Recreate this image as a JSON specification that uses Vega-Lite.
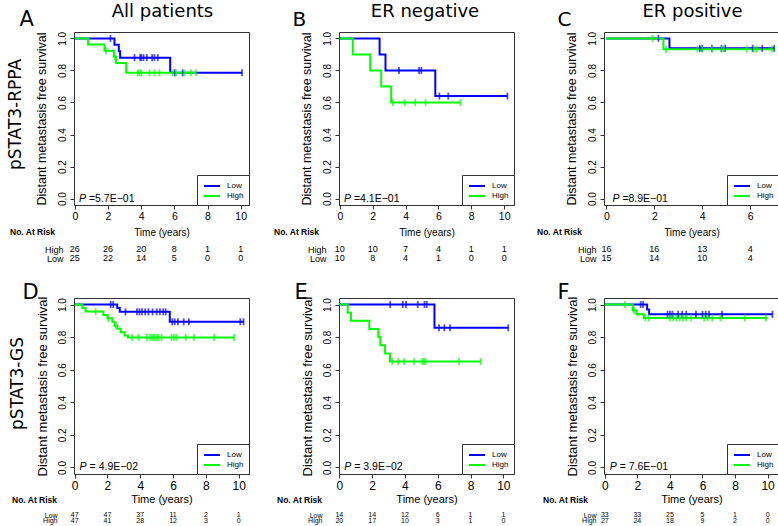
{
"$schema": "https://vega.github.io/schema/vega-lite/v6.json",
"background": "white",
"padding": {"left": 5, "top": 1, "right": 0, "bottom": 0},
"columns": 3,
"spacing": {"row": 36.5, "column": 90},
"bounds": "flush",
"resolve": {"scale": {"color": "independent"}, "legend": {"color": "independent"}},
"config": {
  "font": "Liberation Sans",
  "view": {"stroke": "#333333", "strokeWidth": 1},
  "axis": {"domain": false, "grid": false, "labelColor": "#000000", "titleColor": "#000000", "tickColor": "#333333", "labelFont": "Liberation Sans", "titleFont": "Liberation Sans", "titleFontWeight": "normal", "labelOverlap": false, "labelFlush": false},
  "title": {"font": "Liberation Sans", "fontWeight": "normal", "color": "#000000"},
  "text": {"font": "Liberation Sans", "color": "#000000"}
},
"datasets": {
  "curves": [
    {"panel":"A","group":"Low","t":0,"s":1},{"panel":"A","group":"Low","t":2.39,"s":0.96},{"panel":"A","group":"Low","t":2.65,"s":0.92},{"panel":"A","group":"Low","t":2.73,"s":0.88},{"panel":"A","group":"Low","t":5.75,"s":0.785},{"panel":"A","group":"Low","t":10.08,"s":0.785},
    {"panel":"A","group":"High","t":0,"s":1},{"panel":"A","group":"High","t":0.8,"s":0.962},{"panel":"A","group":"High","t":1.79,"s":0.923},{"panel":"A","group":"High","t":2.35,"s":0.885},{"panel":"A","group":"High","t":2.49,"s":0.846},{"panel":"A","group":"High","t":3.1,"s":0.785},{"panel":"A","group":"High","t":7.3,"s":0.785},
    {"panel":"B","group":"Low","t":0,"s":1},{"panel":"B","group":"Low","t":2.42,"s":0.9},{"panel":"B","group":"Low","t":2.78,"s":0.8},{"panel":"B","group":"Low","t":5.81,"s":0.64},{"panel":"B","group":"Low","t":10.2,"s":0.64},
    {"panel":"B","group":"High","t":0,"s":1},{"panel":"B","group":"High","t":0.79,"s":0.9},{"panel":"B","group":"High","t":1.85,"s":0.8},{"panel":"B","group":"High","t":2.52,"s":0.7},{"panel":"B","group":"High","t":3.13,"s":0.6},{"panel":"B","group":"High","t":7.34,"s":0.6},
    {"panel":"C","group":"Low","t":0,"s":1},{"panel":"C","group":"Low","t":2.63,"s":0.938},{"panel":"C","group":"Low","t":7.0,"s":0.938},
    {"panel":"C","group":"High","t":0,"s":1},{"panel":"C","group":"High","t":2.38,"s":0.933},{"panel":"C","group":"High","t":6.95,"s":0.933},
    {"panel":"D","group":"Low","t":0,"s":1},{"panel":"D","group":"Low","t":2.6,"s":0.978},{"panel":"D","group":"Low","t":2.75,"s":0.955},{"panel":"D","group":"Low","t":5.8,"s":0.894},{"panel":"D","group":"Low","t":10.3,"s":0.894},
    {"panel":"D","group":"High","t":0,"s":1},{"panel":"D","group":"High","t":0.47,"s":0.979},{"panel":"D","group":"High","t":0.67,"s":0.957},{"panel":"D","group":"High","t":1.75,"s":0.936},{"panel":"D","group":"High","t":2.0,"s":0.915},{"panel":"D","group":"High","t":2.3,"s":0.894},{"panel":"D","group":"High","t":2.44,"s":0.872},{"panel":"D","group":"High","t":2.6,"s":0.851},{"panel":"D","group":"High","t":2.8,"s":0.83},{"panel":"D","group":"High","t":3.05,"s":0.81},{"panel":"D","group":"High","t":3.25,"s":0.798},{"panel":"D","group":"High","t":9.72,"s":0.798},
    {"panel":"E","group":"Low","t":0,"s":1},{"panel":"E","group":"Low","t":5.8,"s":0.857},{"panel":"E","group":"Low","t":10.3,"s":0.857},
    {"panel":"E","group":"High","t":0,"s":1},{"panel":"E","group":"High","t":0.51,"s":0.95},{"panel":"E","group":"High","t":0.71,"s":0.9},{"panel":"E","group":"High","t":1.83,"s":0.85},{"panel":"E","group":"High","t":2.38,"s":0.8},{"panel":"E","group":"High","t":2.5,"s":0.75},{"panel":"E","group":"High","t":2.79,"s":0.7},{"panel":"E","group":"High","t":3.09,"s":0.65},{"panel":"E","group":"High","t":8.62,"s":0.65},
    {"panel":"F","group":"Low","t":0,"s":1},{"panel":"F","group":"Low","t":2.6,"s":0.97},{"panel":"F","group":"Low","t":2.72,"s":0.94},{"panel":"F","group":"Low","t":10.3,"s":0.94},
    {"panel":"F","group":"High","t":0,"s":1},{"panel":"F","group":"High","t":1.72,"s":0.963},{"panel":"F","group":"High","t":1.95,"s":0.94},{"panel":"F","group":"High","t":2.4,"s":0.918},{"panel":"F","group":"High","t":10.0,"s":0.918}
  ],
  "censor": [
    {"panel":"A","group":"Low","t":2.15,"s":1},{"panel":"A","group":"Low","t":3.6,"s":0.88},{"panel":"A","group":"Low","t":3.94,"s":0.88},{"panel":"A","group":"Low","t":4.0,"s":0.88},{"panel":"A","group":"Low","t":4.14,"s":0.88},{"panel":"A","group":"Low","t":4.34,"s":0.88},{"panel":"A","group":"Low","t":4.66,"s":0.88},{"panel":"A","group":"Low","t":4.8,"s":0.88},{"panel":"A","group":"Low","t":5.0,"s":0.88},{"panel":"A","group":"Low","t":6.02,"s":0.785},{"panel":"A","group":"Low","t":6.5,"s":0.785},{"panel":"A","group":"Low","t":10.08,"s":0.785},
    {"panel":"A","group":"High","t":1.87,"s":0.923},{"panel":"A","group":"High","t":2.42,"s":0.885},{"panel":"A","group":"High","t":3.8,"s":0.785},{"panel":"A","group":"High","t":3.9,"s":0.785},{"panel":"A","group":"High","t":4.0,"s":0.785},{"panel":"A","group":"High","t":4.5,"s":0.785},{"panel":"A","group":"High","t":4.8,"s":0.785},{"panel":"A","group":"High","t":5.1,"s":0.785},{"panel":"A","group":"High","t":5.9,"s":0.785},{"panel":"A","group":"High","t":6.1,"s":0.785},{"panel":"A","group":"High","t":6.6,"s":0.785},{"panel":"A","group":"High","t":7.0,"s":0.785},{"panel":"A","group":"High","t":7.3,"s":0.785},
    {"panel":"B","group":"Low","t":3.6,"s":0.8},{"panel":"B","group":"Low","t":4.82,"s":0.8},{"panel":"B","group":"Low","t":4.96,"s":0.8},{"panel":"B","group":"Low","t":6.06,"s":0.64},{"panel":"B","group":"Low","t":6.6,"s":0.64},{"panel":"B","group":"Low","t":10.2,"s":0.64},
    {"panel":"B","group":"High","t":3.23,"s":0.6},{"panel":"B","group":"High","t":3.94,"s":0.6},{"panel":"B","group":"High","t":4.59,"s":0.6},{"panel":"B","group":"High","t":5.22,"s":0.6},{"panel":"B","group":"High","t":7.34,"s":0.6},
    {"panel":"C","group":"Low","t":2.17,"s":1},{"panel":"C","group":"Low","t":3.9,"s":0.938},{"panel":"C","group":"Low","t":4.0,"s":0.938},{"panel":"C","group":"Low","t":4.4,"s":0.938},{"panel":"C","group":"Low","t":4.8,"s":0.938},{"panel":"C","group":"Low","t":4.95,"s":0.938},{"panel":"C","group":"Low","t":6.1,"s":0.938},{"panel":"C","group":"Low","t":6.5,"s":0.938},{"panel":"C","group":"Low","t":7.0,"s":0.938},
    {"panel":"C","group":"High","t":1.92,"s":1},{"panel":"C","group":"High","t":2.49,"s":0.933},{"panel":"C","group":"High","t":3.8,"s":0.933},{"panel":"C","group":"High","t":4.0,"s":0.933},{"panel":"C","group":"High","t":4.4,"s":0.933},{"panel":"C","group":"High","t":4.8,"s":0.933},{"panel":"C","group":"High","t":4.9,"s":0.933},{"panel":"C","group":"High","t":5.85,"s":0.933},{"panel":"C","group":"High","t":6.15,"s":0.933},{"panel":"C","group":"High","t":6.27,"s":0.933},{"panel":"C","group":"High","t":6.9,"s":0.933},
    {"panel":"D","group":"Low","t":2.2,"s":1},{"panel":"D","group":"Low","t":2.35,"s":1},{"panel":"D","group":"Low","t":3.1,"s":0.955},{"panel":"D","group":"Low","t":3.8,"s":0.955},{"panel":"D","group":"Low","t":3.95,"s":0.955},{"panel":"D","group":"Low","t":4.1,"s":0.955},{"panel":"D","group":"Low","t":4.3,"s":0.955},{"panel":"D","group":"Low","t":4.5,"s":0.955},{"panel":"D","group":"Low","t":4.75,"s":0.955},{"panel":"D","group":"Low","t":5.0,"s":0.955},{"panel":"D","group":"Low","t":5.2,"s":0.955},{"panel":"D","group":"Low","t":5.4,"s":0.955},{"panel":"D","group":"Low","t":5.55,"s":0.955},{"panel":"D","group":"Low","t":5.95,"s":0.894},{"panel":"D","group":"Low","t":6.1,"s":0.894},{"panel":"D","group":"Low","t":6.3,"s":0.894},{"panel":"D","group":"Low","t":6.65,"s":0.894},{"panel":"D","group":"Low","t":6.96,"s":0.894},{"panel":"D","group":"Low","t":10.1,"s":0.894},{"panel":"D","group":"Low","t":10.3,"s":0.894},
    {"panel":"D","group":"High","t":1.28,"s":0.957},{"panel":"D","group":"High","t":2.05,"s":0.915},{"panel":"D","group":"High","t":2.5,"s":0.872},{"panel":"D","group":"High","t":3.5,"s":0.798},{"panel":"D","group":"High","t":3.9,"s":0.798},{"panel":"D","group":"High","t":4.4,"s":0.798},{"panel":"D","group":"High","t":4.6,"s":0.798},{"panel":"D","group":"High","t":4.75,"s":0.798},{"panel":"D","group":"High","t":4.85,"s":0.798},{"panel":"D","group":"High","t":5.0,"s":0.798},{"panel":"D","group":"High","t":5.1,"s":0.798},{"panel":"D","group":"High","t":5.3,"s":0.798},{"panel":"D","group":"High","t":5.9,"s":0.798},{"panel":"D","group":"High","t":6.05,"s":0.798},{"panel":"D","group":"High","t":6.2,"s":0.798},{"panel":"D","group":"High","t":6.77,"s":0.798},{"panel":"D","group":"High","t":7.27,"s":0.798},{"panel":"D","group":"High","t":8.5,"s":0.798},{"panel":"D","group":"High","t":9.72,"s":0.798},
    {"panel":"E","group":"Low","t":3.1,"s":1},{"panel":"E","group":"Low","t":3.87,"s":1},{"panel":"E","group":"Low","t":4.07,"s":1},{"panel":"E","group":"Low","t":4.78,"s":1},{"panel":"E","group":"Low","t":5.19,"s":1},{"panel":"E","group":"Low","t":5.33,"s":1},{"panel":"E","group":"Low","t":6.08,"s":0.857},{"panel":"E","group":"Low","t":6.4,"s":0.857},{"panel":"E","group":"Low","t":6.75,"s":0.857},{"panel":"E","group":"Low","t":10.3,"s":0.857},
    {"panel":"E","group":"High","t":3.23,"s":0.65},{"panel":"E","group":"High","t":3.6,"s":0.65},{"panel":"E","group":"High","t":3.95,"s":0.65},{"panel":"E","group":"High","t":4.56,"s":0.65},{"panel":"E","group":"High","t":5.06,"s":0.65},{"panel":"E","group":"High","t":5.16,"s":0.65},{"panel":"E","group":"High","t":5.26,"s":0.65},{"panel":"E","group":"High","t":7.3,"s":0.65},{"panel":"E","group":"High","t":8.62,"s":0.65},
    {"panel":"F","group":"Low","t":2.2,"s":1},{"panel":"F","group":"Low","t":2.35,"s":1},{"panel":"F","group":"Low","t":3.85,"s":0.94},{"panel":"F","group":"Low","t":4.0,"s":0.94},{"panel":"F","group":"Low","t":4.15,"s":0.94},{"panel":"F","group":"Low","t":4.5,"s":0.94},{"panel":"F","group":"Low","t":4.75,"s":0.94},{"panel":"F","group":"Low","t":5.0,"s":0.94},{"panel":"F","group":"Low","t":5.6,"s":0.94},{"panel":"F","group":"Low","t":6.0,"s":0.94},{"panel":"F","group":"Low","t":6.2,"s":0.94},{"panel":"F","group":"Low","t":6.4,"s":0.94},{"panel":"F","group":"Low","t":7.2,"s":0.94},{"panel":"F","group":"Low","t":10.3,"s":0.94},
    {"panel":"F","group":"High","t":1.24,"s":1},{"panel":"F","group":"High","t":1.8,"s":0.963},{"panel":"F","group":"High","t":2.48,"s":0.918},{"panel":"F","group":"High","t":2.7,"s":0.918},{"panel":"F","group":"High","t":4.0,"s":0.918},{"panel":"F","group":"High","t":4.2,"s":0.918},{"panel":"F","group":"High","t":4.4,"s":0.918},{"panel":"F","group":"High","t":4.6,"s":0.918},{"panel":"F","group":"High","t":4.8,"s":0.918},{"panel":"F","group":"High","t":5.0,"s":0.918},{"panel":"F","group":"High","t":5.3,"s":0.918},{"panel":"F","group":"High","t":6.1,"s":0.918},{"panel":"F","group":"High","t":6.3,"s":0.918},{"panel":"F","group":"High","t":6.6,"s":0.918},{"panel":"F","group":"High","t":7.1,"s":0.918},{"panel":"F","group":"High","t":8.6,"s":0.918},{"panel":"F","group":"High","t":9.9,"s":0.918}
  ],
  "pvals": [
    {"panel":"A","p":"=5.7E−01"},{"panel":"B","p":"=4.1E−01"},{"panel":"C","p":"=8.9E−01"},
    {"panel":"D","p":"= 4.9E−02"},{"panel":"E","p":"= 3.9E−02"},{"panel":"F","p":"= 7.6E−01"}
  ],
  "risk": [
    {"panel":"A","group":"High","t":0,"n":26},{"panel":"A","group":"High","t":2,"n":26},{"panel":"A","group":"High","t":4,"n":20},{"panel":"A","group":"High","t":6,"n":8},{"panel":"A","group":"High","t":8,"n":1},{"panel":"A","group":"High","t":10,"n":1},
    {"panel":"A","group":"Low","t":0,"n":25},{"panel":"A","group":"Low","t":2,"n":22},{"panel":"A","group":"Low","t":4,"n":14},{"panel":"A","group":"Low","t":6,"n":5},{"panel":"A","group":"Low","t":8,"n":0},{"panel":"A","group":"Low","t":10,"n":0},
    {"panel":"B","group":"High","t":0,"n":10},{"panel":"B","group":"High","t":2,"n":10},{"panel":"B","group":"High","t":4,"n":7},{"panel":"B","group":"High","t":6,"n":4},{"panel":"B","group":"High","t":8,"n":1},{"panel":"B","group":"High","t":10,"n":1},
    {"panel":"B","group":"Low","t":0,"n":10},{"panel":"B","group":"Low","t":2,"n":8},{"panel":"B","group":"Low","t":4,"n":4},{"panel":"B","group":"Low","t":6,"n":1},{"panel":"B","group":"Low","t":8,"n":0},{"panel":"B","group":"Low","t":10,"n":0},
    {"panel":"C","group":"High","t":0,"n":16},{"panel":"C","group":"High","t":2,"n":16},{"panel":"C","group":"High","t":4,"n":13},{"panel":"C","group":"High","t":6,"n":4},
    {"panel":"C","group":"Low","t":0,"n":15},{"panel":"C","group":"Low","t":2,"n":14},{"panel":"C","group":"Low","t":4,"n":10},{"panel":"C","group":"Low","t":6,"n":4},
    {"panel":"D","group":"Low","t":0,"n":47},{"panel":"D","group":"Low","t":2,"n":47},{"panel":"D","group":"Low","t":4,"n":37},{"panel":"D","group":"Low","t":6,"n":11},{"panel":"D","group":"Low","t":8,"n":2},{"panel":"D","group":"Low","t":10,"n":1},
    {"panel":"D","group":"High","t":0,"n":47},{"panel":"D","group":"High","t":2,"n":41},{"panel":"D","group":"High","t":4,"n":28},{"panel":"D","group":"High","t":6,"n":12},{"panel":"D","group":"High","t":8,"n":3},{"panel":"D","group":"High","t":10,"n":0},
    {"panel":"E","group":"Low","t":0,"n":14},{"panel":"E","group":"Low","t":2,"n":14},{"panel":"E","group":"Low","t":4,"n":12},{"panel":"E","group":"Low","t":6,"n":6},{"panel":"E","group":"Low","t":8,"n":1},{"panel":"E","group":"Low","t":10,"n":1},
    {"panel":"E","group":"High","t":0,"n":20},{"panel":"E","group":"High","t":2,"n":17},{"panel":"E","group":"High","t":4,"n":10},{"panel":"E","group":"High","t":6,"n":3},{"panel":"E","group":"High","t":8,"n":1},{"panel":"E","group":"High","t":10,"n":0},
    {"panel":"F","group":"Low","t":0,"n":33},{"panel":"F","group":"Low","t":2,"n":33},{"panel":"F","group":"Low","t":4,"n":25},{"panel":"F","group":"Low","t":6,"n":5},{"panel":"F","group":"Low","t":8,"n":1},{"panel":"F","group":"Low","t":10,"n":0},
    {"panel":"F","group":"High","t":0,"n":27},{"panel":"F","group":"High","t":2,"n":24},{"panel":"F","group":"High","t":4,"n":18},{"panel":"F","group":"High","t":6,"n":9},{"panel":"F","group":"High","t":8,"n":2},{"panel":"F","group":"High","t":10,"n":0}
  ]
},
"concat": [
 {
  "width": 175, "height": 173,
  "layer": [
   {"data": {"name": "curves"}, "transform": [{"filter": "datum.panel === 'A'"}],
    "mark": {"type": "line", "interpolate": "step-after", "strokeWidth": 2},
    "encoding": {
     "x": {"field": "t", "type": "quantitative", "scale": {"domain": [-0.05, 10.5], "nice": false, "zero": false}, "axis": {"orient": "bottom", "values": [0,2,4,6,8,10], "tickSize": 4, "labelPadding": 2, "labelFontSize": 10.5, "title": "Time (years)", "titleFontSize": 10, "titlePadding": 6}},
     "y": {"field": "s", "type": "quantitative", "scale": {"domain": [-0.04, 1.04], "nice": false, "zero": false}, "axis": {"orient": "left", "values": [0,0.2,0.4,0.6,0.8,1], "format": ".1f", "tickSize": 4, "labelAngle": -90, "labelAlign": "center", "labelBaseline": "bottom", "labelPadding": 3, "labelFontSize": 10, "title": "Distant metastasis free survival", "titleFontSize": 12.5, "titlePadding": 9}},
     "color": {"field": "group", "type": "nominal", "scale": {"domain": ["Low","High"], "range": ["#0000ff","#00ff00"]}, "legend": {"orient": "bottom-right", "offset": 0, "title": null, "padding": 5, "strokeColor": "#333333", "fillColor": "#ffffff", "labelFontSize": 8, "labelFont": "Liberation Sans", "symbolType": "M-1.6,0H1.6", "symbolSize": 100, "symbolStrokeWidth": 2, "symbolOffset": 4, "labelOffset": 9, "rowPadding": 0, "cornerRadius": 0}}
    }},
   {"data": {"name": "censor"}, "transform": [{"filter": "datum.panel === 'A'"}],
    "mark": {"type": "tick", "orient": "vertical", "size": 7, "thickness": 1.8},
    "encoding": {
     "x": {"field": "t", "type": "quantitative", "axis": {"orient": "top", "labels": false, "ticks": false, "domain": false, "title": "All patients", "titleFont": "DejaVu Sans", "titleFontSize": 18, "titleX": 88, "titleY": -16, "titleAlign": "center", "titleBaseline": "alphabetic", "titleAngle": 0}},
     "y": {"field": "s", "type": "quantitative", "axis": {"orient": "left", "labels": false, "ticks": false, "domain": false, "title": "pSTAT3-RPPA", "titleFont": "DejaVu Sans", "titleFontSize": 17, "titleX": -54, "titleY": 82, "titleAngle": -90, "titleAlign": "center", "titleBaseline": "alphabetic"}},
     "color": {"field": "group", "type": "nominal", "legend": null}
    }},
   {"data": {"name": "pvals"}, "transform": [{"filter": "datum.panel === 'A'"}],
    "mark": {"type": "text", "align": "left", "baseline": "middle", "fontSize": 10.5, "fontStyle": "italic"},
    "encoding": {
     "x": {"datum": 0.25, "type": "quantitative", "axis": {"orient": "top", "labels": false, "ticks": false, "domain": false, "title": "A", "titleFont": "DejaVu Sans", "titleFontSize": 21, "titleX": -55, "titleY": -7, "titleAlign": "left", "titleBaseline": "alphabetic", "titleAngle": 0}},
     "y": {"datum": 0, "type": "quantitative", "axis": null},
     "text": {"value": "P"}
    }},
   {"data": {"name": "pvals"}, "transform": [{"filter": "datum.panel === 'A'"}],
    "mark": {"type": "text", "align": "left", "baseline": "middle", "fontSize": 10.5, "dx": 10},
    "encoding": {
     "x": {"datum": 0.25, "type": "quantitative", "axis": null},
     "y": {"datum": 0, "type": "quantitative", "axis": null},
     "text": {"field": "p", "type": "nominal"}
    }}
  ],
  "resolve": {"axis": {"x": "independent", "y": "independent"}}
 },
 {
  "width": 175, "height": 173,
  "layer": [
   {"data": {"name": "curves"}, "transform": [{"filter": "datum.panel === 'B'"}],
    "mark": {"type": "line", "interpolate": "step-after", "strokeWidth": 2},
    "encoding": {
     "x": {"field": "t", "type": "quantitative", "scale": {"domain": [-0.05, 10.6], "nice": false, "zero": false}, "axis": {"orient": "bottom", "values": [0,2,4,6,8,10], "tickSize": 4, "labelPadding": 2, "labelFontSize": 10.5, "title": "Time (years)", "titleFontSize": 10, "titlePadding": 6}},
     "y": {"field": "s", "type": "quantitative", "scale": {"domain": [-0.04, 1.04], "nice": false, "zero": false}, "axis": {"orient": "left", "values": [0,0.2,0.4,0.6,0.8,1], "format": ".1f", "tickSize": 4, "labelAngle": -90, "labelAlign": "center", "labelBaseline": "bottom", "labelPadding": 3, "labelFontSize": 10, "title": "Distant metastasis free survival", "titleFontSize": 12.5, "titlePadding": 9}},
     "color": {"field": "group", "type": "nominal", "scale": {"domain": ["Low","High"], "range": ["#0000ff","#00ff00"]}, "legend": {"orient": "bottom-right", "offset": 0, "title": null, "padding": 5, "strokeColor": "#333333", "fillColor": "#ffffff", "labelFontSize": 8, "labelFont": "Liberation Sans", "symbolType": "M-1.6,0H1.6", "symbolSize": 100, "symbolStrokeWidth": 2, "symbolOffset": 4, "labelOffset": 9, "rowPadding": 0, "cornerRadius": 0}}
    }},
   {"data": {"name": "censor"}, "transform": [{"filter": "datum.panel === 'B'"}],
    "mark": {"type": "tick", "orient": "vertical", "size": 7, "thickness": 1.8},
    "encoding": {
     "x": {"field": "t", "type": "quantitative", "axis": {"orient": "top", "labels": false, "ticks": false, "domain": false, "title": "ER negative", "titleFont": "DejaVu Sans", "titleFontSize": 18, "titleX": 85.5, "titleY": -16, "titleAlign": "center", "titleBaseline": "alphabetic", "titleAngle": 0}},
     "y": {"field": "s", "type": "quantitative", "axis": null},
     "color": {"field": "group", "type": "nominal", "legend": null}
    }},
   {"data": {"name": "pvals"}, "transform": [{"filter": "datum.panel === 'B'"}],
    "mark": {"type": "text", "align": "left", "baseline": "middle", "fontSize": 10.5, "fontStyle": "italic"},
    "encoding": {
     "x": {"datum": 0.25, "type": "quantitative", "axis": {"orient": "top", "labels": false, "ticks": false, "domain": false, "title": "B", "titleFont": "DejaVu Sans", "titleFontSize": 20, "titleX": -47, "titleY": -7, "titleAlign": "left", "titleBaseline": "alphabetic", "titleAngle": 0}},
     "y": {"datum": 0, "type": "quantitative", "axis": null},
     "text": {"value": "P"}
    }},
   {"data": {"name": "pvals"}, "transform": [{"filter": "datum.panel === 'B'"}],
    "mark": {"type": "text", "align": "left", "baseline": "middle", "fontSize": 10.5, "dx": 10},
    "encoding": {
     "x": {"datum": 0.25, "type": "quantitative", "axis": null},
     "y": {"datum": 0, "type": "quantitative", "axis": null},
     "text": {"field": "p", "type": "nominal"}
    }}
  ],
  "resolve": {"axis": {"x": "independent", "y": "independent"}}
 },
 {
  "width": 175, "height": 173,
  "layer": [
   {"data": {"name": "curves"}, "transform": [{"filter": "datum.panel === 'C'"}],
    "mark": {"type": "line", "interpolate": "step-after", "strokeWidth": 2},
    "encoding": {
     "x": {"field": "t", "type": "quantitative", "scale": {"domain": [-0.1, 7.2], "nice": false, "zero": false}, "axis": {"orient": "bottom", "values": [0,2,4,6], "tickSize": 4, "labelPadding": 2, "labelFontSize": 10.5, "title": "Time (years)", "titleFontSize": 10, "titlePadding": 6}},
     "y": {"field": "s", "type": "quantitative", "scale": {"domain": [-0.04, 1.04], "nice": false, "zero": false}, "axis": {"orient": "left", "values": [0,0.2,0.4,0.6,0.8,1], "format": ".1f", "tickSize": 4, "labelAngle": -90, "labelAlign": "center", "labelBaseline": "bottom", "labelPadding": 3, "labelFontSize": 10, "title": "Distant metastasis free survival", "titleFontSize": 12.5, "titlePadding": 9}},
     "color": {"field": "group", "type": "nominal", "scale": {"domain": ["Low","High"], "range": ["#0000ff","#00ff00"]}, "legend": {"orient": "bottom-right", "offset": 0, "title": null, "padding": 5, "strokeColor": "#333333", "fillColor": "#ffffff", "labelFontSize": 8, "labelFont": "Liberation Sans", "symbolType": "M-1.6,0H1.6", "symbolSize": 100, "symbolStrokeWidth": 2, "symbolOffset": 4, "labelOffset": 9, "rowPadding": 0, "cornerRadius": 0}}
    }},
   {"data": {"name": "censor"}, "transform": [{"filter": "datum.panel === 'C'"}],
    "mark": {"type": "tick", "orient": "vertical", "size": 7, "thickness": 1.8},
    "encoding": {
     "x": {"field": "t", "type": "quantitative", "axis": {"orient": "top", "labels": false, "ticks": false, "domain": false, "title": "ER positive", "titleFont": "DejaVu Sans", "titleFontSize": 18, "titleX": 88, "titleY": -16, "titleAlign": "center", "titleBaseline": "alphabetic", "titleAngle": 0}},
     "y": {"field": "s", "type": "quantitative", "axis": null},
     "color": {"field": "group", "type": "nominal", "legend": null}
    }},
   {"data": {"name": "pvals"}, "transform": [{"filter": "datum.panel === 'C'"}],
    "mark": {"type": "text", "align": "left", "baseline": "middle", "fontSize": 10.5, "fontStyle": "italic"},
    "encoding": {
     "x": {"datum": 0.25, "type": "quantitative", "axis": {"orient": "top", "labels": false, "ticks": false, "domain": false, "title": "C", "titleFont": "DejaVu Sans", "titleFontSize": 20, "titleX": -47, "titleY": -7, "titleAlign": "left", "titleBaseline": "alphabetic", "titleAngle": 0}},
     "y": {"datum": 0, "type": "quantitative", "axis": null},
     "text": {"value": "P"}
    }},
   {"data": {"name": "pvals"}, "transform": [{"filter": "datum.panel === 'C'"}],
    "mark": {"type": "text", "align": "left", "baseline": "middle", "fontSize": 10.5, "dx": 10},
    "encoding": {
     "x": {"datum": 0.25, "type": "quantitative", "axis": null},
     "y": {"datum": 0, "type": "quantitative", "axis": null},
     "text": {"field": "p", "type": "nominal"}
    }}
  ],
  "resolve": {"axis": {"x": "independent", "y": "independent"}}
 },
 {
  "width": 175, "height": 20, "view": {"stroke": null},
  "data": {"name": "risk"}, "transform": [{"filter": "datum.panel === 'A'"}],
  "title": {"text": "No. At Risk", "anchor": "start", "frame": "group", "dx": -64, "offset": 5.5, "fontSize": 8.5, "fontWeight": "bold"},
  "mark": {"type": "text", "fontSize": 9},
  "encoding": {
   "x": {"field": "t", "type": "quantitative", "scale": {"domain": [-0.05, 10.5], "nice": false, "zero": false}, "axis": null},
   "y": {"field": "group", "type": "nominal", "scale": {"type": "point", "domain": ["High","Low"], "padding": 0.6111, "align": 0.682}, "axis": {"title": null, "ticks": false, "domain": false, "labelPadding": 11, "labelFontSize": 9}},
   "text": {"field": "n", "type": "quantitative"}
  }
 },
 {
  "width": 175, "height": 20, "view": {"stroke": null},
  "data": {"name": "risk"}, "transform": [{"filter": "datum.panel === 'B'"}],
  "title": {"text": "No. At Risk", "anchor": "start", "frame": "group", "dx": -65, "offset": 5.5, "fontSize": 8.5, "fontWeight": "bold"},
  "mark": {"type": "text", "fontSize": 9},
  "encoding": {
   "x": {"field": "t", "type": "quantitative", "scale": {"domain": [-0.05, 10.6], "nice": false, "zero": false}, "axis": null},
   "y": {"field": "group", "type": "nominal", "scale": {"type": "point", "domain": ["High","Low"], "padding": 0.6111, "align": 0.682}, "axis": {"title": null, "ticks": false, "domain": false, "labelPadding": 13, "labelFontSize": 9}},
   "text": {"field": "n", "type": "quantitative"}
  }
 },
 {
  "width": 175, "height": 20, "view": {"stroke": null},
  "data": {"name": "risk"}, "transform": [{"filter": "datum.panel === 'C'"}],
  "title": {"text": "No. At Risk", "anchor": "start", "frame": "group", "dx": -67, "offset": 5.5, "fontSize": 8.5, "fontWeight": "bold"},
  "mark": {"type": "text", "fontSize": 9},
  "encoding": {
   "x": {"field": "t", "type": "quantitative", "scale": {"domain": [-0.1, 7.2], "nice": false, "zero": false}, "axis": null},
   "y": {"field": "group", "type": "nominal", "scale": {"type": "point", "domain": ["High","Low"], "padding": 0.6111, "align": 0.682}, "axis": {"title": null, "ticks": false, "domain": false, "labelPadding": 8, "labelFontSize": 9}},
   "text": {"field": "n", "type": "quantitative"}
  }
 },
 {
  "width": 175, "height": 176,
  "layer": [
   {"data": {"name": "curves"}, "transform": [{"filter": "datum.panel === 'D'"}],
    "mark": {"type": "line", "interpolate": "step-after", "strokeWidth": 2},
    "encoding": {
     "x": {"field": "t", "type": "quantitative", "scale": {"domain": [-0.04, 10.63], "nice": false, "zero": false}, "axis": {"orient": "bottom", "values": [0,2,4,6,8,10], "tickSize": 4, "labelPadding": 2, "labelFontSize": 12, "title": "Time (years)", "titleFontSize": 11, "titlePadding": 2}},
     "y": {"field": "s", "type": "quantitative", "scale": {"domain": [-0.04, 1.04], "nice": false, "zero": false}, "axis": {"orient": "left", "values": [0,0.2,0.4,0.6,0.8,1], "format": ".1f", "tickSize": 4, "labelAngle": -90, "labelAlign": "center", "labelBaseline": "bottom", "labelPadding": 3, "labelFontSize": 10, "title": "Distant metastasis free survival", "titleFontSize": 13, "titlePadding": 8}},
     "color": {"field": "group", "type": "nominal", "scale": {"domain": ["Low","High"], "range": ["#0000ff","#00ff00"]}, "legend": {"orient": "bottom-right", "offset": 0, "title": null, "padding": 5, "strokeColor": "#333333", "fillColor": "#ffffff", "labelFontSize": 8, "labelFont": "Liberation Sans", "symbolType": "M-1.6,0H1.6", "symbolSize": 100, "symbolStrokeWidth": 2, "symbolOffset": 4, "labelOffset": 9, "rowPadding": 0, "cornerRadius": 0}}
    }},
   {"data": {"name": "censor"}, "transform": [{"filter": "datum.panel === 'D'"}],
    "mark": {"type": "tick", "orient": "vertical", "size": 7, "thickness": 1.8},
    "encoding": {
     "x": {"field": "t", "type": "quantitative", "axis": null},
     "y": {"field": "s", "type": "quantitative", "axis": {"orient": "left", "labels": false, "ticks": false, "domain": false, "title": "pSTAT3-GS", "titleFont": "DejaVu Sans", "titleFontSize": 17, "titleX": -52, "titleY": 85, "titleAngle": -90, "titleAlign": "center", "titleBaseline": "alphabetic"}},
     "color": {"field": "group", "type": "nominal", "legend": null}
    }},
   {"data": {"name": "pvals"}, "transform": [{"filter": "datum.panel === 'D'"}],
    "mark": {"type": "text", "align": "left", "baseline": "middle", "fontSize": 10.5, "fontStyle": "italic"},
    "encoding": {
     "x": {"datum": 0.3, "type": "quantitative", "axis": {"orient": "top", "labels": false, "ticks": false, "domain": false, "title": "D", "titleFont": "DejaVu Sans", "titleFontSize": 21, "titleX": -52, "titleY": 0, "titleAlign": "left", "titleBaseline": "alphabetic", "titleAngle": 0}},
     "y": {"datum": 0, "type": "quantitative", "axis": null},
     "text": {"value": "P"}
    }},
   {"data": {"name": "pvals"}, "transform": [{"filter": "datum.panel === 'D'"}],
    "mark": {"type": "text", "align": "left", "baseline": "middle", "fontSize": 10.5, "dx": 10},
    "encoding": {
     "x": {"datum": 0.3, "type": "quantitative", "axis": null},
     "y": {"datum": 0, "type": "quantitative", "axis": null},
     "text": {"field": "p", "type": "nominal"}
    }}
  ],
  "resolve": {"axis": {"x": "independent", "y": "independent"}}
 },
 {
  "width": 175, "height": 176,
  "layer": [
   {"data": {"name": "curves"}, "transform": [{"filter": "datum.panel === 'E'"}],
    "mark": {"type": "line", "interpolate": "step-after", "strokeWidth": 2},
    "encoding": {
     "x": {"field": "t", "type": "quantitative", "scale": {"domain": [-0.02, 10.65], "nice": false, "zero": false}, "axis": {"orient": "bottom", "values": [0,2,4,6,8,10], "tickSize": 4, "labelPadding": 2, "labelFontSize": 12, "title": "Time (years)", "titleFontSize": 11, "titlePadding": 2}},
     "y": {"field": "s", "type": "quantitative", "scale": {"domain": [-0.04, 1.04], "nice": false, "zero": false}, "axis": {"orient": "left", "values": [0,0.2,0.4,0.6,0.8,1], "format": ".1f", "tickSize": 4, "labelAngle": -90, "labelAlign": "center", "labelBaseline": "bottom", "labelPadding": 3, "labelFontSize": 10, "title": "Distant metastasis free survival", "titleFontSize": 13, "titlePadding": 8}},
     "color": {"field": "group", "type": "nominal", "scale": {"domain": ["Low","High"], "range": ["#0000ff","#00ff00"]}, "legend": {"orient": "bottom-right", "offset": 0, "title": null, "padding": 5, "strokeColor": "#333333", "fillColor": "#ffffff", "labelFontSize": 8, "labelFont": "Liberation Sans", "symbolType": "M-1.6,0H1.6", "symbolSize": 100, "symbolStrokeWidth": 2, "symbolOffset": 4, "labelOffset": 9, "rowPadding": 0, "cornerRadius": 0}}
    }},
   {"data": {"name": "censor"}, "transform": [{"filter": "datum.panel === 'E'"}],
    "mark": {"type": "tick", "orient": "vertical", "size": 7, "thickness": 1.8},
    "encoding": {
     "x": {"field": "t", "type": "quantitative", "axis": null},
     "y": {"field": "s", "type": "quantitative", "axis": null},
     "color": {"field": "group", "type": "nominal", "legend": null}
    }},
   {"data": {"name": "pvals"}, "transform": [{"filter": "datum.panel === 'E'"}],
    "mark": {"type": "text", "align": "left", "baseline": "middle", "fontSize": 10.5, "fontStyle": "italic"},
    "encoding": {
     "x": {"datum": 0.3, "type": "quantitative", "axis": {"orient": "top", "labels": false, "ticks": false, "domain": false, "title": "E", "titleFont": "DejaVu Sans", "titleFontSize": 21, "titleX": -45, "titleY": 0, "titleAlign": "left", "titleBaseline": "alphabetic", "titleAngle": 0}},
     "y": {"datum": 0, "type": "quantitative", "axis": null},
     "text": {"value": "P"}
    }},
   {"data": {"name": "pvals"}, "transform": [{"filter": "datum.panel === 'E'"}],
    "mark": {"type": "text", "align": "left", "baseline": "middle", "fontSize": 10.5, "dx": 10},
    "encoding": {
     "x": {"datum": 0.3, "type": "quantitative", "axis": null},
     "y": {"datum": 0, "type": "quantitative", "axis": null},
     "text": {"field": "p", "type": "nominal"}
    }}
  ],
  "resolve": {"axis": {"x": "independent", "y": "independent"}}
 },
 {
  "width": 175, "height": 176,
  "layer": [
   {"data": {"name": "curves"}, "transform": [{"filter": "datum.panel === 'F'"}],
    "mark": {"type": "line", "interpolate": "step-after", "strokeWidth": 2},
    "encoding": {
     "x": {"field": "t", "type": "quantitative", "scale": {"domain": [-0.05, 10.7], "nice": false, "zero": false}, "axis": {"orient": "bottom", "values": [0,2,4,6,8,10], "tickSize": 4, "labelPadding": 2, "labelFontSize": 12, "title": "Time (years)", "titleFontSize": 11, "titlePadding": 2}},
     "y": {"field": "s", "type": "quantitative", "scale": {"domain": [-0.04, 1.04], "nice": false, "zero": false}, "axis": {"orient": "left", "values": [0,0.2,0.4,0.6,0.8,1], "format": ".1f", "tickSize": 4, "labelAngle": -90, "labelAlign": "center", "labelBaseline": "bottom", "labelPadding": 3, "labelFontSize": 10, "title": "Distant metastasis free survival", "titleFontSize": 13, "titlePadding": 8}},
     "color": {"field": "group", "type": "nominal", "scale": {"domain": ["Low","High"], "range": ["#0000ff","#00ff00"]}, "legend": {"orient": "bottom-right", "offset": 0, "title": null, "padding": 5, "strokeColor": "#333333", "fillColor": "#ffffff", "labelFontSize": 8, "labelFont": "Liberation Sans", "symbolType": "M-1.6,0H1.6", "symbolSize": 100, "symbolStrokeWidth": 2, "symbolOffset": 4, "labelOffset": 9, "rowPadding": 0, "cornerRadius": 0}}
    }},
   {"data": {"name": "censor"}, "transform": [{"filter": "datum.panel === 'F'"}],
    "mark": {"type": "tick", "orient": "vertical", "size": 7, "thickness": 1.8},
    "encoding": {
     "x": {"field": "t", "type": "quantitative", "axis": null},
     "y": {"field": "s", "type": "quantitative", "axis": null},
     "color": {"field": "group", "type": "nominal", "legend": null}
    }},
   {"data": {"name": "pvals"}, "transform": [{"filter": "datum.panel === 'F'"}],
    "mark": {"type": "text", "align": "left", "baseline": "middle", "fontSize": 10.5, "fontStyle": "italic"},
    "encoding": {
     "x": {"datum": 0.3, "type": "quantitative", "axis": {"orient": "top", "labels": false, "ticks": false, "domain": false, "title": "F", "titleFont": "DejaVu Sans", "titleFontSize": 21, "titleX": -47, "titleY": 0, "titleAlign": "left", "titleBaseline": "alphabetic", "titleAngle": 0}},
     "y": {"datum": 0, "type": "quantitative", "axis": null},
     "text": {"value": "P"}
    }},
   {"data": {"name": "pvals"}, "transform": [{"filter": "datum.panel === 'F'"}],
    "mark": {"type": "text", "align": "left", "baseline": "middle", "fontSize": 10.5, "dx": 10},
    "encoding": {
     "x": {"datum": 0.3, "type": "quantitative", "axis": null},
     "y": {"datum": 0, "type": "quantitative", "axis": null},
     "text": {"field": "p", "type": "nominal"}
    }}
  ],
  "resolve": {"axis": {"x": "independent", "y": "independent"}}
 },
 {
  "width": 175, "height": 14, "view": {"stroke": null},
  "data": {"name": "risk"}, "transform": [{"filter": "datum.panel === 'D'"}],
  "title": {"text": "No. At Risk", "anchor": "start", "frame": "group", "dx": -62, "offset": 6, "fontSize": 8.5, "fontWeight": "bold"},
  "mark": {"type": "text", "fontSize": 7},
  "encoding": {
   "x": {"field": "t", "type": "quantitative", "scale": {"domain": [-0.04, 10.63], "nice": false, "zero": false}, "axis": null},
   "y": {"field": "group", "type": "nominal", "scale": {"type": "point", "domain": ["Low","High"], "padding": 0.6667, "align": 0.5625}, "axis": {"title": null, "ticks": false, "domain": false, "labelPadding": 17, "labelFontSize": 7}},
   "text": {"field": "n", "type": "quantitative"}
  }
 },
 {
  "width": 175, "height": 14, "view": {"stroke": null},
  "data": {"name": "risk"}, "transform": [{"filter": "datum.panel === 'E'"}],
  "title": {"text": "No. At Risk", "anchor": "start", "frame": "group", "dx": -62, "offset": 6, "fontSize": 8.5, "fontWeight": "bold"},
  "mark": {"type": "text", "fontSize": 7},
  "encoding": {
   "x": {"field": "t", "type": "quantitative", "scale": {"domain": [-0.02, 10.65], "nice": false, "zero": false}, "axis": null},
   "y": {"field": "group", "type": "nominal", "scale": {"type": "point", "domain": ["Low","High"], "padding": 0.6667, "align": 0.5625}, "axis": {"title": null, "ticks": false, "domain": false, "labelPadding": 17, "labelFontSize": 7}},
   "text": {"field": "n", "type": "quantitative"}
  }
 },
 {
  "width": 175, "height": 14, "view": {"stroke": null},
  "data": {"name": "risk"}, "transform": [{"filter": "datum.panel === 'F'"}],
  "title": {"text": "No. At Risk", "anchor": "start", "frame": "group", "dx": -61, "offset": 6, "fontSize": 8.5, "fontWeight": "bold"},
  "mark": {"type": "text", "fontSize": 7},
  "encoding": {
   "x": {"field": "t", "type": "quantitative", "scale": {"domain": [-0.05, 10.7], "nice": false, "zero": false}, "axis": null},
   "y": {"field": "group", "type": "nominal", "scale": {"type": "point", "domain": ["Low","High"], "padding": 0.6667, "align": 0.5625}, "axis": {"title": null, "ticks": false, "domain": false, "labelPadding": 8, "labelFontSize": 7}},
   "text": {"field": "n", "type": "quantitative"}
  }
 }
]
}
